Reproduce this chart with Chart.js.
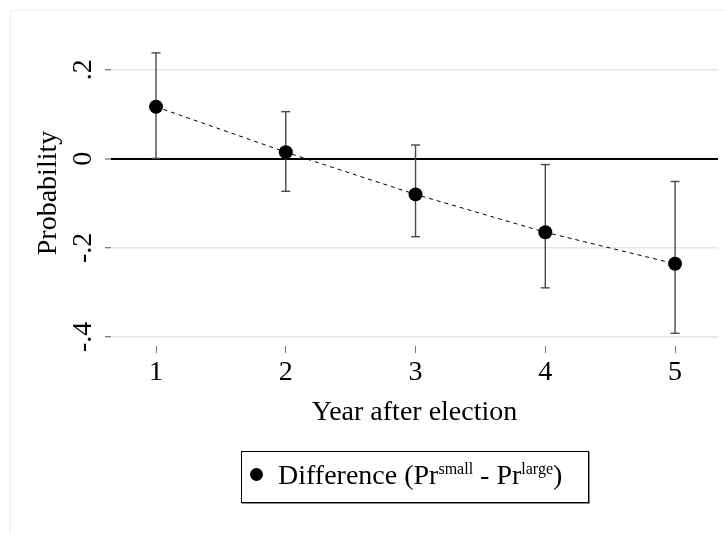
<!DOCTYPE html>
<html>
<head>
<meta charset="utf-8">
<script src="https://cdn.jsdelivr.net/npm/chart.js@4/dist/chart.umd.min.js"></script>
<style>
  html, body { margin: 0; padding: 0; background: #ffffff; }
  #wrap { position: relative; width: 725px; height: 533px; overflow: hidden; }
  #frame { position: absolute; left: 10px; top: 10px; width: 800px; height: 600px;
           border: 1px solid #efefef; box-sizing: border-box; }
  #chart { position: absolute; left: 0; top: 0; }
  #legend { position: absolute; left: 241px; top: 451px; width: 348px; height: 52px;
            box-sizing: border-box; border: 1px solid #000; box-shadow: 1px 1px 0 #888;
            font-family: "Liberation Serif", "Times New Roman", serif; font-size: 28px;
            color: #000; background: #fff; white-space: nowrap; }
  #legend .dot { position: absolute; left: 8px; top: 16px; width: 13px; height: 13px;
                 border-radius: 50%; background: #000; }
  #legend .txt { position: absolute; left: 36px; top: 6px; line-height: 34px; }
  #legend sup { font-size: 16px; vertical-align: 0; position: relative; top: -10px; }
</style>
</head>
<body>
<div id="wrap">
  <div id="frame"></div>
  <canvas id="chart" width="725" height="533"></canvas>
  <div id="legend"><span class="dot"></span><span class="txt">Difference (Pr<sup>small</sup> - Pr<sup>large</sup>)</span></div>
</div>
<script>
// ---- data ----
const years = [1, 2, 3, 4, 5];
const difference = [0.117, 0.015, -0.080, -0.165, -0.236];
const ciLow = [0.001, -0.073, -0.175, -0.290, -0.392];
const ciHigh = [0.238, 0.106, 0.031, -0.013, -0.051];
const yTickValues = [-0.4, -0.2, 0, 0.2];
const yTickLabels = ['-.4', '-.2', '0', '.2'];
const xTickValues = [1, 2, 3, 4, 5];
const xTickLabels = ['1', '2', '3', '4', '5'];
const seriesLabel = 'Difference (Pr small - Pr large)';
const xTitle = 'Year after election';
const yTitle = 'Probability';

const FONT = '"Liberation Serif", "Times New Roman", serif';

const errorSets = years.map((x, i) => ({
  type: 'line',
  label: 'CI ' + x,
  data: [{ x: x, y: ciLow[i] }, { x: x, y: ciHigh[i] }],
  borderColor: '#4a4a4a',
  borderWidth: 1.4,
  pointStyle: 'line',
  pointRadius: 4.5,
  pointBorderColor: '#4a4a4a',
  pointBorderWidth: 1.4,
  fill: false,
  order: 2
}));

const mainSet = {
  type: 'line',
  label: seriesLabel,
  data: years.map((x, i) => ({ x: x, y: difference[i] })),
  borderColor: '#000',
  borderWidth: 1,
  borderDash: [4, 4],
  pointRadius: 7,
  pointBackgroundColor: '#000',
  pointBorderColor: '#000',
  pointBorderWidth: 0,
  fill: false,
  tension: 0,
  order: 1
};

new Chart(document.getElementById('chart'), {
  type: 'line',
  data: { datasets: [mainSet].concat(errorSets) },
  options: {
    responsive: false,
    animation: false,
    events: [],
    layout: { padding: { top: 40, left: 0, right: 7, bottom: 97 } },
    plugins: { legend: { display: false }, tooltip: { enabled: false } },
    scales: {
      x: {
        type: 'linear',
        min: 0.653,
        max: 5.331,
        afterBuildTicks: s => { s.ticks = xTickValues.map(v => ({ value: v })); },
        afterFit: s => { s.height = 90; },
        border: { display: false },
        grid: { drawOnChartArea: false, drawTicks: true, tickLength: 7, tickColor: '#777', tickWidth: 1 },
        ticks: {
          color: '#000', padding: 3, maxRotation: 0, minRotation: 0,
          font: { family: FONT, size: 28 },
          callback: (v) => xTickLabels[xTickValues.indexOf(v)]
        },
        title: { display: true, text: xTitle, color: '#000', font: { family: FONT, size: 28 },
                 padding: { top: 0, bottom: 7 } }
      },
      y: {
        type: 'linear',
        min: -0.4207,
        max: 0.267,
        afterBuildTicks: s => { s.ticks = yTickValues.map(v => ({ value: v })); },
        afterFit: s => { s.width = 111; },
        border: { display: false },
        grid: {
          drawTicks: true, tickLength: 6,
          color: ctx => (ctx.tick && ctx.tick.value === 0) ? '#000' : '#e6e6e6',
          lineWidth: ctx => (ctx.tick && ctx.tick.value === 0) ? 2 : 1.5,
          tickColor: '#555', tickWidth: 1
        },
        ticks: {
          color: '#000', padding: 6, minRotation: 90, maxRotation: 90, crossAlign: 'center',
          font: { family: FONT, size: 28 },
          callback: (v) => yTickLabels[yTickValues.indexOf(v)]
        },
        title: { display: true, text: yTitle, color: '#000', font: { family: FONT, size: 28 },
                 padding: { top: 32, bottom: 0 } }
      }
    }
  }
});
</script>
</body>
</html>
